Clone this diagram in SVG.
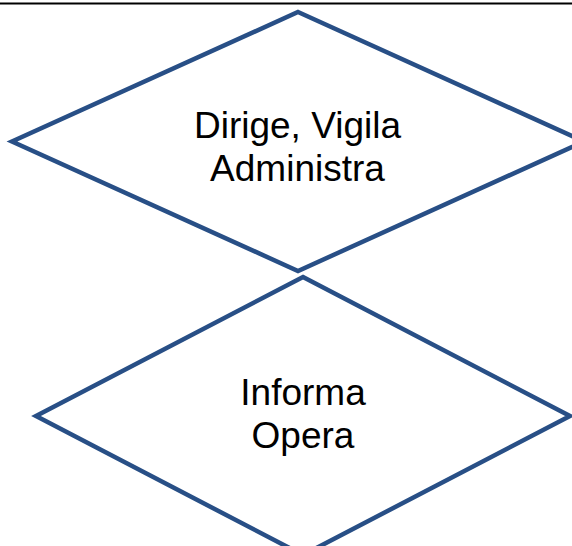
<svg xmlns="http://www.w3.org/2000/svg" width="572" height="546" viewBox="0 0 572 546">
  <style>
    .shape { fill: #ffffff; stroke: #284F86; stroke-width: 4.5; stroke-linejoin: miter; }
    .label { font-family: "Liberation Sans", Arial, sans-serif; font-size: 37px; fill: #000000; text-anchor: middle; }
  </style>
  <rect x="0" y="0" width="572" height="546" fill="#ffffff"/>
  <line x1="0" y1="3.5" x2="572" y2="3.5" stroke="#000000" stroke-width="2"/>
  <g id="connectors"></g>
  <g id="node-dirige">
    <polygon class="shape" points="298,12 584,141.5 298,271 12,141.5"/>
    <text class="label" x="297.5" y="138">Dirige, Vigila</text>
    <text class="label" x="297.5" y="181">Administra</text>
  </g>
  <g id="node-informa">
    <polygon class="shape" points="303,277 570,416 303,555 36,416"/>
    <text class="label" x="303" y="405">Informa</text>
    <text class="label" x="303" y="448">Opera</text>
  </g>
</svg>
